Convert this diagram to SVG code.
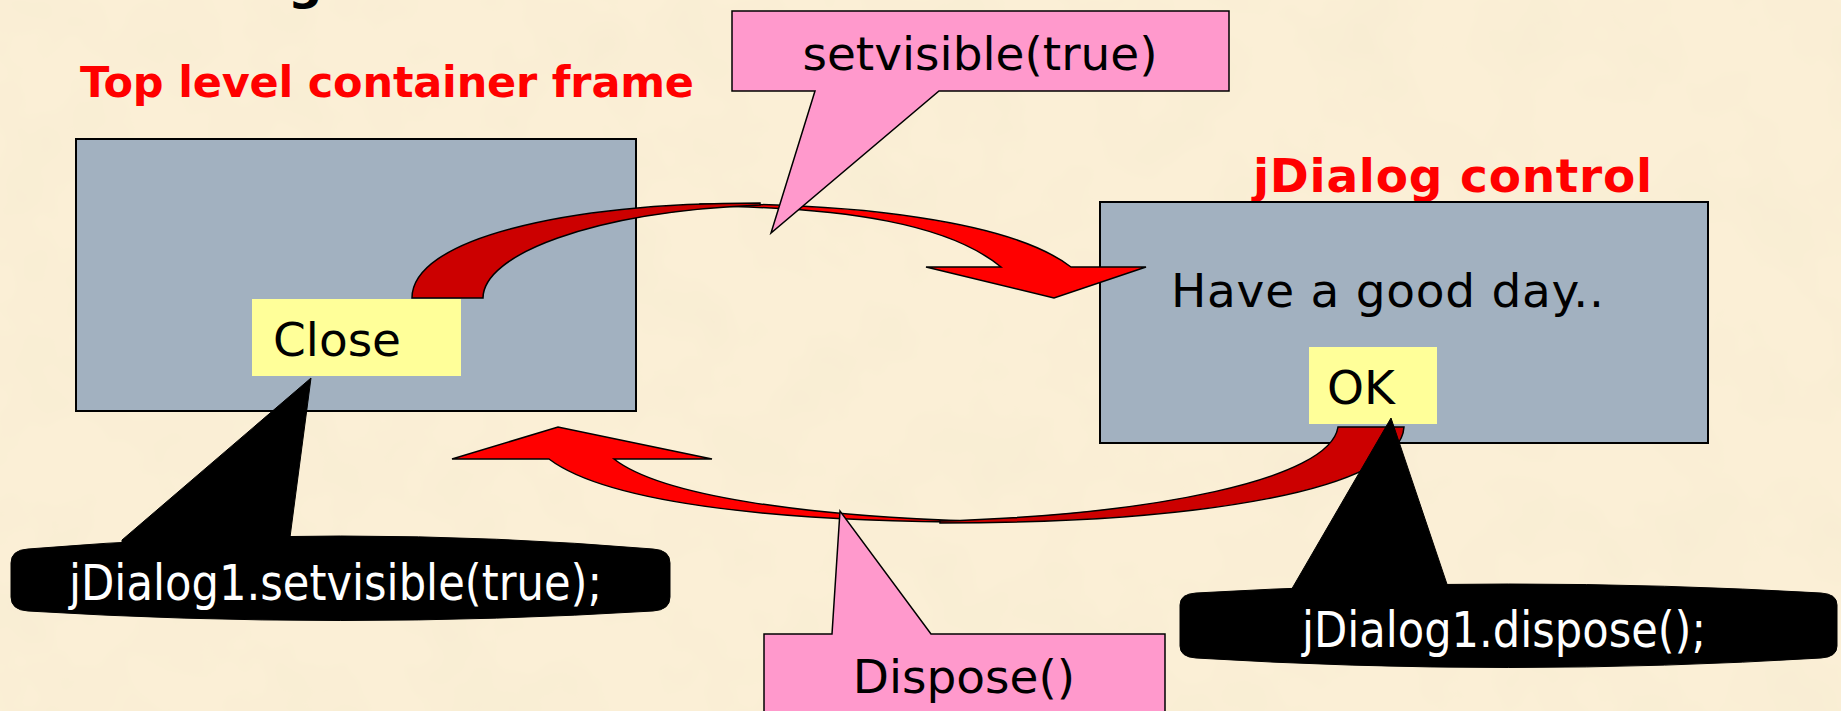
<svg xmlns="http://www.w3.org/2000/svg" width="1841" height="711" viewBox="0 0 1841 711">
  <defs>
    <filter id="parchment" x="0" y="0" width="100%" height="100%">
      <feTurbulence type="fractalNoise" baseFrequency="0.012" numOctaves="3" seed="7"/>
      <feColorMatrix type="matrix" values="0 0 0 0 0.90  0 0 0 0 0.82  0 0 0 0 0.62  0.8 0 0 0 -0.32"/>
    </filter>
    <style>
      .win { fill: #A2B1C0; stroke: #000; stroke-width: 2; }
      .btn { fill: #FFFF99; stroke: none; }
      .body { font-family: "DejaVu Sans", "Liberation Sans", sans-serif; font-size: 47px; fill: #000; }
      .title { font-family: "DejaVu Sans", "Liberation Sans", sans-serif; font-weight: bold; fill: #FF0000; }
      .code { font-family: "DejaVu Sans", "Liberation Sans", sans-serif; font-size: 49px; fill: #FFFFFF; }
      .pink { fill: #FF99CC; stroke: #000; stroke-width: 1.5; stroke-linejoin: miter; }
      .black { fill: #000; stroke: #000; stroke-width: 1; }
      .red { fill: #FF0000; stroke: #000; stroke-width: 1.5; stroke-linejoin: miter; }
      .dkred { fill: #CC0000; stroke: #000; stroke-width: 1.5; stroke-linejoin: miter; }
    </style>
  </defs>

  <!-- background -->
  <rect x="0" y="0" width="1841" height="711" fill="#FBEFD6"/>
  <rect x="0" y="0" width="1841" height="711" filter="url(#parchment)"/>

  <!-- cut-off title glyph (only its descender is inside the picture) -->
  <text x="288" y="-1" font-family="DejaVu Sans, sans-serif" font-weight="bold" font-size="48" fill="#000">g</text>

  <!-- top level container frame -->
  <g id="frame">
    <text class="title" x="80" y="97" font-size="43" textLength="614">Top level container frame</text>
    <rect class="win" x="76" y="139" width="560" height="272"/>
  </g>

  <!-- jDialog control -->
  <g id="dialog">
    <text class="title" x="1253" y="192" font-size="47" textLength="399">jDialog control</text>
    <rect class="win" x="1100" y="202" width="608" height="241"/>
    <text class="body" x="1171" y="307" textLength="433">Have a good day..</text>
  </g>

  <g id="close-btn">
    <rect class="btn" x="252" y="299" width="209" height="77"/>
    <text class="body" x="273" y="356">Close</text>
  </g>

  <g id="ok-btn">
    <rect class="btn" x="1309" y="347" width="128" height="77"/>
    <text class="body" x="1327" y="404">OK</text>
  </g>

  <!-- connectors -->
  <g id="connectors">
    <g id="arrow-show">
      <path class="red" d="M 700,204 C 850,203 1010,220 1071,267 L 1146,267 L 1054,298 L 926,267 L 1001,267 C 950,225 850,207 700,206 Z"/>
      <path class="dkred" d="M 412,298 C 412,240 560,203 760,203 L 760,205 C 590,212 483,255 483,298 Z"/>
    </g>
    <g id="arrow-dispose">
      <path class="red" d="M 549,459 C 610,505 790,523 1000,522 C 800,517 660,495 614,459 L 712,459 L 558,427 L 452,459 Z"/>
      <path class="dkred" d="M 1404,427 C 1400,490 1200,523 940,523 L 940,521 C 1150,515 1330,480 1338,427 Z"/>
    </g>
  </g>

  <!-- callouts -->
  <g id="callout-setvisible">
    <path class="pink" d="M 732,11 L 1229,11 L 1229,91 L 939,91 L 771,233 L 815,91 L 732,91 Z"/>
    <text class="body" x="980" y="70" text-anchor="middle">setvisible(true)</text>
  </g>

  <g id="callout-dispose">
    <path class="pink" d="M 764,634 L 832,634 L 840,511 L 931,634 L 1165,634 L 1165,716 L 764,716 Z"/>
    <text class="body" x="964" y="693" text-anchor="middle">Dispose()</text>
  </g>

  <g id="code-setvisible">
    <polygon class="black" points="122,560 287,560 311,378 122,540"/>
    <path class="black" d="M 11,563 Q 11,550 28,549 Q 340,523 653,549 Q 670,550 670,563 L 670,597 Q 670,610 653,611 Q 340,630 28,611 Q 11,610 11,597 Z"/>
    <text class="code" x="69" y="600" textLength="533" lengthAdjust="spacingAndGlyphs">jDialog1.setvisible(true);</text>
  </g>

  <g id="code-dispose">
    <polygon class="black" points="1290,605 1454,605 1391,418 1290,592"/>
    <path class="black" d="M 1180,605 Q 1180,594 1196,593 Q 1508,575 1821,593 Q 1837,594 1837,605 L 1837,646 Q 1837,657 1821,658 Q 1508,677 1196,658 Q 1180,657 1180,646 Z"/>
    <text class="code" x="1302" y="647" textLength="404" lengthAdjust="spacingAndGlyphs">jDialog1.dispose();</text>
  </g>
</svg>
